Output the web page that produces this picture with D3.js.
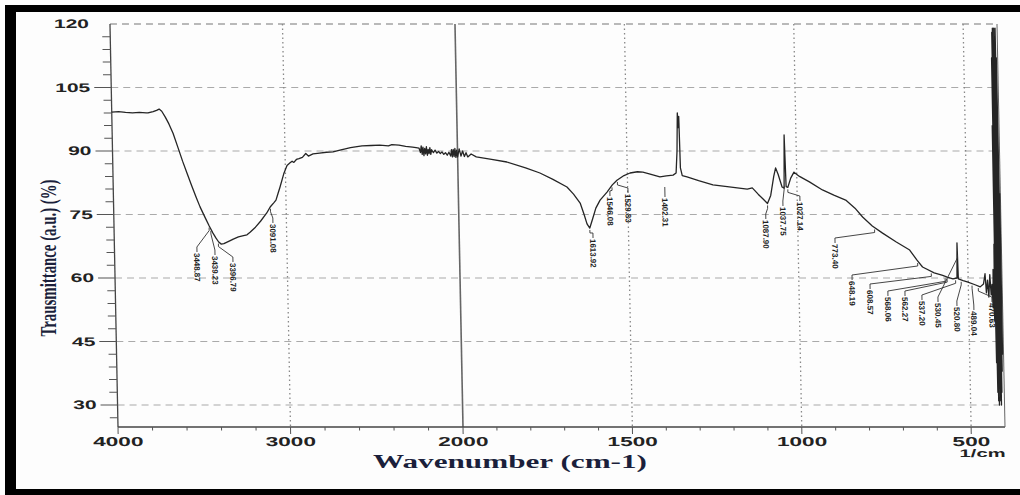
<!DOCTYPE html>
<html>
<head>
<meta charset="utf-8">
<script src="https://cdnjs.cloudflare.com/ajax/libs/d3/7.8.5/d3.min.js"></script>
<style>
  body { margin:0; background:#fff; }
  svg { display:block; }
</style>
</head>
<body>
<svg id="chart"></svg>
<script>
// spectrum (wavenumber in 1/cm, transmittance in %)
var waveNumbers = [
  4000, 3960, 3920, 3880, 3840, 3800, 3790, 3760, 3740, 3725, 3710, 3690, 3670, 3647, 3620, 3595,
  3571, 3545, 3520, 3499, 3470, 3448, 3427, 3410, 3395, 3380, 3365, 3340, 3310, 3280, 3250, 3230,
  3212, 3180, 3150, 3114, 3090, 3070, 3058, 3045, 3033, 3010, 2990, 2972, 2960, 2950, 2935, 2920,
  2900, 2880, 2865, 2850, 2838, 2800, 2760, 2722, 2681, 2620, 2553, 2500, 2450, 2400, 2380, 2339,
  2300, 2260, 2240, 2223, 2215, 2210, 2205, 2200, 2195, 2190, 2185, 2180, 2175, 2170, 2165, 2160,
  2155, 2150, 2140, 2130, 2120, 2110, 2100, 2090, 2080, 2070, 2060, 2050, 2040, 2035, 2030, 2025,
  2020, 2015, 2010, 2005, 2000, 1995, 1990, 1985, 1980, 1975, 1970, 1960, 1945, 1900, 1855, 1800,
  1758, 1720, 1679, 1660, 1641, 1630, 1622, 1614, 1605, 1595, 1582, 1561, 1545, 1531, 1510, 1492,
  1470, 1454, 1430, 1404, 1385, 1365, 1356, 1352, 1349, 1347, 1345, 1343, 1338, 1324, 1290, 1248,
  1200, 1147, 1132, 1115, 1100, 1088, 1078, 1068, 1062, 1055, 1044, 1038, 1035, 1032, 1027, 1018,
  1008, 992, 963, 925, 890, 857, 830, 808, 780, 750, 710, 671, 650, 634, 600, 575,
  562, 545, 533, 531, 529, 515, 503, 480, 465, 455, 450, 447, 443, 440, 436, 433,
  430, 428, 426, 424, 422, 421, 420, 419, 418, 417, 416, 415, 414, 413, 412, 411,
  410, 409, 408, 407, 406, 405, 404, 403, 402
];
var transmittance = [
  99.2, 99.3, 99.1, 99.0, 99.1, 99.0, 99.0, 99.3, 99.6, 99.9, 99.4, 98.0, 96.4, 94.2, 90.8, 87.6,
  84.8, 81.8, 79.0, 76.8, 74.2, 72.3, 70.6, 69.4, 68.5, 68.0, 68.1, 68.6, 69.2, 69.7, 70.0, 70.2,
  70.8, 72.0, 73.4, 75.3, 76.9, 77.8, 78.4, 80.0, 81.5, 84.6, 86.6, 87.2, 87.6, 87.3, 88.0, 88.2,
  88.5, 89.4, 88.8, 89.1, 89.3, 89.5, 89.7, 89.8, 90.2, 90.8, 91.2, 91.3, 91.4, 91.2, 91.5, 91.4,
  91.1, 90.9, 90.8, 90.7, 89.6, 91.2, 89.2, 90.9, 88.9, 90.6, 89.3, 91.0, 89.0, 90.4, 89.4, 90.8,
  89.2, 90.3, 89.6, 90.2, 89.5, 89.9, 89.4, 89.8, 89.2, 89.6, 89.0, 89.7, 88.8, 90.3, 88.6, 90.4,
  88.7, 90.6, 88.5, 90.2, 88.6, 90.5, 88.8, 90.0, 88.7, 89.6, 88.6, 89.3, 88.6, 88.0, 87.4, 86.0,
  84.8, 83.3, 81.5, 79.8, 77.7, 75.0, 72.8, 71.8, 74.0, 76.5, 78.4, 80.3, 82.0, 83.1, 84.2, 84.8,
  85.1, 85.0, 84.5, 83.9, 84.1, 84.3, 84.8, 90.0, 99.0, 95.5, 98.2, 86.0, 84.2, 83.9, 83.0, 82.0,
  81.5, 81.0, 81.3, 79.8, 78.6, 77.6, 79.5, 84.0, 86.0, 84.5, 81.5, 81.2, 93.8, 81.6, 81.4, 83.6,
  85.0, 84.0, 82.7, 80.8, 79.5, 78.4, 76.5, 74.4, 72.3, 70.6, 68.5, 66.6, 64.2, 62.6, 61.2, 60.6,
  60.2, 59.8, 60.0, 68.3, 59.8, 59.4, 59.1, 58.4, 57.9, 58.6, 61.0, 56.5, 59.5, 55.5, 60.8, 56.0,
  58.5, 53.0, 62.0, 50.0, 68.0, 40.0, 96.0, 33.0, 112.0, 31.0, 118.0, 30.0, 119.0, 34.0, 116.0, 31.0,
  119.0, 30.0, 117.0, 33.0, 119.0, 38.0, 112.0, 42.0, 80.0
];

// peak picks printed by the instrument
var peakLabels = [3448.87, 3439.23, 3396.79, 3091.08, 1613.92, 1546.08, 1529.83, 1402.31,
  1087.90, 1037.75, 1027.14, 773.40, 648.19, 608.57, 568.06, 562.27, 537.20, 530.45, 520.80,
  489.04, 470.63];

var yTicks = [30, 45, 60, 75, 90, 105, 120];
var xTicks = [4000, 3000, 2000, 1500, 1000, 500];
var xGridTicks = [3000, 1500, 1000, 500];

var width = 1020, height = 495;
var plotLeft = 118, plotRight = 1005, plotTop = 24, plotBottom = 427;

var svg = d3.select('#chart')
  .attr('width', width)
  .attr('height', height);

svg.append('rect')
  .attr('width', width)
  .attr('height', height)
  .attr('fill', '#fdfdfd');

// black scan frame
svg.append('rect').attr('x', 5).attr('y', 5).attr('width', 1015).attr('height', 7).attr('fill', '#000');
svg.append('rect').attr('x', 5).attr('y', 5).attr('width', 11).attr('height', 490).attr('fill', '#000');
svg.append('rect').attr('x', 5).attr('y', 489).attr('width', 1015).attr('height', 6).attr('fill', '#000');

// x axis changes scale at 2000
var x = d3.scaleLinear()
  .domain([4000, 2000, 400])
  .range([plotLeft, 463, plotRight]);
var y = d3.scaleLinear()
  .domain([24.8, 120])
  .range([plotBottom, plotTop]);

// the scan is slightly sheared, keep the bottom fixed
var g = svg.append('g')
  .attr('transform', 'translate(0,' + plotBottom + ') skewX(1.14) translate(0,' + (-plotBottom) + ')');

// horizontal dashed grid
g.selectAll('.hgrid')
  .data(yTicks)
  .enter().append('line')
  .attr('x1', plotLeft).attr('x2', plotRight)
  .attr('y1', function(d){ return y(d); })
  .attr('y2', function(d){ return y(d); })
  .attr('stroke', function(d){ return d == 120 ? '#777' : '#aaa'; })
  .attr('stroke-width', 1)
  .attr('stroke-dasharray', '7,5');

// vertical dotted grid
g.selectAll('.vgrid')
  .data(xGridTicks)
  .enter().append('line')
  .attr('x1', function(d){ return x(d); })
  .attr('x2', function(d){ return x(d); })
  .attr('y1', plotTop).attr('y2', plotBottom)
  .attr('stroke', '#888')
  .attr('stroke-width', 1.3)
  .attr('stroke-dasharray', '1.5,3');

// solid marker at the 2000 scale change
g.append('line')
  .attr('x1', x(2000)).attr('x2', x(2000))
  .attr('y1', plotTop).attr('y2', plotBottom)
  .attr('stroke', '#666')
  .attr('stroke-width', 1.6);

// axes
g.append('line').attr('x1', plotLeft).attr('x2', plotLeft).attr('y1', plotTop).attr('y2', plotBottom)
  .attr('stroke', '#444').attr('stroke-width', 1.3);
g.append('line').attr('x1', plotLeft).attr('x2', plotRight).attr('y1', plotBottom).attr('y2', plotBottom)
  .attr('stroke', '#444').attr('stroke-width', 1.3);
g.append('line').attr('x1', plotRight).attr('x2', plotRight).attr('y1', plotTop).attr('y2', plotBottom)
  .attr('stroke', '#666').attr('stroke-width', 1);

// y ticks, minor every 3
var yMinor = d3.range(27, 120, 3);
g.selectAll('.ytick')
  .data(yMinor)
  .enter().append('line')
  .attr('x1', function(d){ return (d % 15 == 0) ? plotLeft - 17 : plotLeft - 8; })
  .attr('x2', plotLeft)
  .attr('y1', function(d){ return y(d); })
  .attr('y2', function(d){ return y(d); })
  .attr('stroke', '#555')
  .attr('stroke-width', 1);

g.selectAll('.ylab')
  .data(yTicks)
  .enter().append('text')
  .attr('x', 97)
  .attr('y', function(d){ return y(d) + 4.5; })
  .attr('text-anchor', 'end')
  .attr('font-family', 'Liberation Sans, Arial, sans-serif')
  .attr('font-weight', 'bold')
  .attr('font-size', '12.5px')
  .attr('fill', '#222')
  .attr('textLength', function(d){ return String(d).length * 11.7; })
  .attr('lengthAdjust', 'spacingAndGlyphs')
  .text(function(d){ return d; });

// x ticks, minor every 200 above 2000 and every 100 below
var xMinor = d3.range(3800, 2000, -200).concat(d3.range(1900, 400, -100))
  .filter(function(d){ return xTicks.indexOf(d) < 0; });
g.selectAll('.xminor')
  .data(xMinor)
  .enter().append('line')
  .attr('x1', function(d){ return x(d); })
  .attr('x2', function(d){ return x(d); })
  .attr('y1', plotBottom).attr('y2', plotBottom + 3.5)
  .attr('stroke', '#555');
g.selectAll('.xmajor')
  .data(xTicks)
  .enter().append('line')
  .attr('x1', function(d){ return x(d); })
  .attr('x2', function(d){ return x(d); })
  .attr('y1', plotBottom).attr('y2', plotBottom + 7)
  .attr('stroke', '#555');

g.selectAll('.xlab')
  .data(xTicks)
  .enter().append('text')
  .attr('x', function(d){ return x(d); })
  .attr('y', 446)
  .attr('text-anchor', 'middle')
  .attr('font-family', 'Liberation Sans, Arial, sans-serif')
  .attr('font-weight', 'bold')
  .attr('font-size', '13px')
  .attr('fill', '#222')
  .attr('textLength', function(d){ return String(d).length * 12.6; })
  .attr('lengthAdjust', 'spacingAndGlyphs')
  .text(function(d){ return d; });

g.append('text')
  .attr('x', 982)
  .attr('y', 457)
  .attr('text-anchor', 'middle')
  .attr('font-family', 'Liberation Sans, Arial, sans-serif')
  .attr('font-weight', 'bold')
  .attr('font-size', '11px')
  .attr('fill', '#222')
  .attr('textLength', 46)
  .attr('lengthAdjust', 'spacingAndGlyphs')
  .text('1/cm');

// spectrum
var line = d3.line()
  .x(function(d){ return x(d[0]); })
  .y(function(d){ return y(d[1]); });
var pts = waveNumbers.map(function(w, i){ return [w, transmittance[i]]; });
g.append('path')
  .attr('d', line(pts))
  .attr('fill', 'none')
  .attr('stroke', '#252525')
  .attr('stroke-width', 1.3)
  .attr('stroke-linejoin', 'round');

// transmittance at a wavenumber, linear between read points
function tAt(w){
  for(var i = 1; i < waveNumbers.length; i++){
    if(waveNumbers[i] <= w){
      var a = waveNumbers[i-1], b = waveNumbers[i];
      var f = (a - w) / (a - b);
      return transmittance[i-1] + f * (transmittance[i] - transmittance[i-1]);
    }
  }
  return transmittance[transmittance.length - 1];
}

// where each pick label sits: [x offset from peak, top of label]
var labelPos = [
  [-12.6, 252], [3.7, 255], [14.2, 262], [2.2, 223], [3, 238], [-2.2, 196], [10.4, 193], [4.1, 197],
  [-2, 219], [-1.6, 206], [11.9, 201], [-39.8, 243], [-65.9, 280], [-61.5, 289], [-57.5, 296],
  [-42.4, 296], [-34, 300], [-20.3, 302], [-4.7, 306], [1.4, 310], [13.4, 302]
];

peakLabels.forEach(function(p, i){
  var ax = x(p), ay = y(tAt(p));
  var lx = ax + labelPos[i][0], ly = labelPos[i][1];
  var path;
  if(p == 1402.31){
    path = 'M' + lx + ',' + (ly - 10) + 'L' + lx + ',' + ly;
  }else{
    path = 'M' + ax + ',' + (ay + 2) + 'L' + ax + ',' + (ay + 5) +
      'L' + lx + ',' + (ly - 5) + 'L' + lx + ',' + ly;
  }
  g.append('path')
    .attr('d', path)
    .attr('fill', 'none')
    .attr('stroke', '#333')
    .attr('stroke-width', 0.9);
  var txt = p.toFixed(2);
  g.append('text')
    .attr('transform', 'translate(' + (lx - 3) + ',' + (ly + 1) + ') rotate(90)')
    .attr('font-family', 'Liberation Sans Narrow, Liberation Sans, Arial, sans-serif')
    .attr('font-weight', 'bold')
    .attr('font-size', '8px')
    .attr('fill', '#222')
    .attr('textLength', txt.length * 4.1)
    .attr('lengthAdjust', 'spacingAndGlyphs')
    .text(txt);
});

// axis titles
svg.append('text')
  .attr('x', 510)
  .attr('y', 468)
  .attr('text-anchor', 'middle')
  .attr('font-family', 'Liberation Serif, Times New Roman, serif')
  .attr('font-weight', 'bold')
  .attr('font-size', '18px')
  .attr('fill', '#1b1f3b')
  .attr('textLength', 274)
  .attr('lengthAdjust', 'spacingAndGlyphs')
  .text('Wavenumber (cm-1)');

svg.append('text')
  .attr('transform', 'translate(56,258) rotate(-90)')
  .attr('text-anchor', 'middle')
  .attr('font-family', 'Liberation Serif, Times New Roman, serif')
  .attr('font-weight', 'bold')
  .attr('font-size', '24px')
  .attr('fill', '#1b1f3b')
  .attr('textLength', 157)
  .attr('lengthAdjust', 'spacingAndGlyphs')
  .text('Trausmittance (a.u.) (%)');
</script>
</body>
</html>
